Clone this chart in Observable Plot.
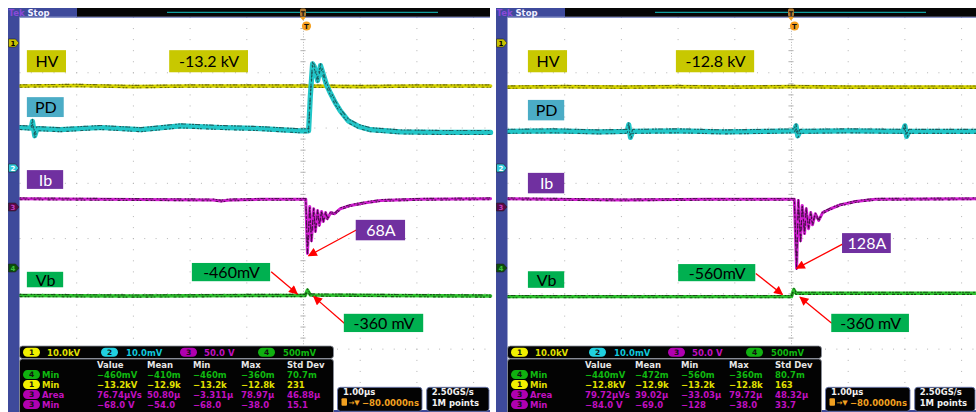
<!DOCTYPE html>
<html><head><meta charset="utf-8">
<script src="https://cdn.jsdelivr.net/npm/d3@7"></script>
<script src="https://cdn.jsdelivr.net/npm/@observablehq/plot@0.6"></script>
<style>
html,body{margin:0;padding:0;background:#fff;}
#wrap{position:relative;width:976px;height:412px;overflow:hidden;background:#fff;}
#wrap svg{position:absolute;top:0;}
</style></head><body><div id="wrap"></div>
<script>
// ---------- DATA (time in µs from trigger, value in screen divisions) ----------
const leftHV = [[-5,2.76],[-4,2.77],[-3,2.75],[-2,2.76],[-1,2.76],[0,2.76],[1,2.75],[2,2.76],[3.3,2.76]];
const leftPD = [[-5,2.01],[-4.8,2.0],[-4.78,2.12],[-4.74,1.86],[-4.7,1.99],[-4.29,1.97],[-3.58,2.01],[-2.87,1.97],[-2.17,2.04],[-1.46,2.01],[-0.76,1.99],[-0.05,1.95],[0.09,1.95],[0.12,2.57],[0.16,3.16],[0.19,3.11],[0.25,2.86],[0.30,3.13],[0.34,3.00],[0.41,2.77],[0.48,2.62],[0.56,2.46],[0.65,2.31],[0.79,2.13],[0.97,2.03],[1.18,1.97],[1.71,1.93],[2.42,1.92],[3.3,1.92]];
const leftIb = [[-5,0.72],[-3.58,0.71],[-1.6,0.7],[-1.46,0.68],[-1.3,0.70],[-0.76,0.71],[0.04,0.71],[0.07,-0.27],[0.11,0.58],[0.14,-0.04],[0.18,0.54],[0.21,0.13],[0.25,0.51],[0.28,0.24],[0.32,0.49],[0.35,0.31],[0.39,0.47],[0.42,0.36],[0.48,0.47],[0.55,0.45],[0.65,0.54],[0.83,0.60],[1.09,0.65],[1.36,0.69],[2.06,0.71],[3.3,0.72]];
const leftVb = [[-5,-1.03],[-3,-1.04],[-1,-1.03],[0.03,-1.03],[0.07,-0.93],[0.12,-1.02],[1.5,-1.03],[3.3,-1.04]];

const rightHV = [[-5,2.74],[-4,2.75],[-3,2.74],[-2,2.75],[-1,2.74],[0,2.75],[1,2.74],[2,2.74],[3.3,2.74]];
const rightPD = [[-5,1.94],[-4.2,1.95],[-3.4,1.93],[-2.9,1.94],[-2.87,2.06],[-2.84,1.83],[-2.80,1.94],[-2.0,1.95],[-1.2,1.93],[-0.4,1.94],[0.05,1.95],[0.08,2.04],[0.11,1.86],[0.15,1.94],[1.0,1.95],[1.97,1.94],[2.0,2.04],[2.03,1.85],[2.07,1.94],[3.3,1.94]];
const rightIb = [[-5,0.72],[-3,0.70],[-1.5,0.71],[0.05,0.71],[0.09,-0.54],[0.12,0.69],[0.16,-0.04],[0.19,0.60],[0.23,0.09],[0.26,0.54],[0.30,0.18],[0.34,0.47],[0.37,0.25],[0.42,0.45],[0.48,0.33],[0.55,0.47],[0.69,0.54],[0.86,0.61],[1.13,0.67],[1.48,0.71],[3.3,0.72]];
const rightVb = [[-5,-1.05],[-2,-1.05],[0.0,-1.05],[0.04,-0.92],[0.08,-0.99],[1.5,-0.99],[3.3,-0.99]];

const leftLabels  = ["HV","-13.2 kV","PD","Ib","68A","Vb","-460mV","-360 mV"];
const rightLabels = ["HV","-12.8 kV","PD","Ib","128A","Vb","-560mV","-360 mV"];

const chanScales = ["10.0kV","10.0mV","50.0 V","500mV"];
const measHeaders = ["Value","Mean","Min","Max","Std Dev"];
const measChannels = [4,1,3,3];
const measNames = ["Min","Min","Area","Min"];
const measLeft = [["−460mV","−410m","−460m","−360m","70.7m"],["−13.2kV","−12.9k","−13.2k","−12.8k","231"],["76.74µVs","50.80µ","−3.311µ","78.97µ","46.88µ"],["−68.0 V","−54.0","−68.0","−38.0","15.1"]];
const measRight = [["−440mV","−472m","−560m","−360m","80.7m"],["−12.8kV","−12.9k","−13.2k","−12.8k","163"],["79.72µVs","39.02µ","−33.03µ","79.72µ","48.32µ"],["−84.0 V","−69.0","−128","−38.0","33.7"]];
const timebase = ["1.00µs","−80.0000ns"];
const acquisition = ["2.50GS/s","1M points"];

// ---------- LAYOUT ----------
const PXUS = 56.7, LEFTPX = 19.5, YMIN = -3.1465, YMAX = 4;
const kinds = ["hv","hv","pd","ib","ib","vb","vb","vb"];
const kindStyle = {hv:["#c8c800","#000"], pd:["#4bacc6","#000"], ib:["#7030a0","#fff"], vb:["#00b050","#000"]};
const leftBoxes = [[-4.87,-4.18,3.40,3.00],[-2.36,-0.97,3.40,3.00],[-4.87,-4.22,2.55,2.19],[-4.87,-4.23,1.23,0.89],[0.93,1.80,0.33,-0.04],[-4.87,-4.23,-0.61,-0.89],[-1.96,-0.58,-0.45,-0.78],[0.72,2.12,-1.37,-1.70]];
const rightBoxes = [[-4.64,-3.95,3.40,3.00],[-2.03,-0.65,3.40,3.00],[-4.64,-4.00,2.50,2.13],[-4.64,-4.00,1.18,0.81],[0.90,1.76,0.09,-0.27],[-4.64,-4.00,-0.60,-0.90],[-1.99,-0.63,-0.47,-0.78],[0.71,2.08,-1.37,-1.70]];
const leftArrows = [[0.94,0.16,0.09,-0.31],[-0.57,-0.60,-0.11,-1.00],[0.72,-1.53,0.18,-1.05]];
const rightArrows = [[0.90,-0.10,0.09,-0.54],[-0.63,-0.63,-0.16,-1.01],[0.71,-1.53,0.15,-1.06]];

const chColor = {1:"#e0e000",2:"#10c8dc",3:"#c010c0",4:"#10b810"};
const chBadge = {1:"#f0f000",2:"#20d0e0",3:"#b000b0",4:"#10b010"};

function trace(pairs, color, dark, w) {
  const d = pairs.map(([t,v]) => ({t, v}));
  return [
    Plot.line(d, {x:"t", y:"v", stroke: color, strokeWidth: w, strokeLinejoin:"round"}),
    Plot.line(d, {x:"t", y:"v", stroke: dark, strokeWidth: 1.1, strokeDasharray:"1,2,2,1,1,4,1,2", dy: -w/2+0.6, strokeOpacity:0.85}),
    Plot.line(d, {x:"t", y:"v", stroke: dark, strokeWidth: 1.1, strokeDasharray:"2,3,1,2,1,5", dy: w/2-0.6, strokeOpacity:0.85})
  ];
}

function buildPanel(cfg) {
  const W = cfg.width;
  const xmax = -5 + (W - LEFTPX) / PXUS;
  const grid = "#b4b4b4";
  const vlines = [-4,-3,-2,-1,1,2,3].filter(t => t < xmax);
  const hlines = [3,2,1,0,-1,-2,-3];
  const ticks = d3.range(-15, 20).map(i => i/5);
  const boxes = cfg.labels.map((text, i) => {
    const b = cfg.boxes[i], k = kindStyle[kinds[i]];
    return {text, x1:b[0], x2:b[1], y1:b[2], y2:b[3], fill:k[0], tc:k[1]};
  });
  const arrows = cfg.arrows.map(a => ({x1:a[0], y1:a[1], x2:a[2], y2:a[3]}));
  const marks = [
    Plot.ruleX(vlines, {x: d=>d, y1: YMAX, y2: YMIN, stroke: grid, strokeDasharray: "1,10.06"}),
    Plot.ruleY(hlines, {y: d=>d, x1: -5, x2: xmax, stroke: grid, strokeDasharray: "1,10.34"}),
    Plot.ruleX([0], {x: d=>d, y1: YMAX, y2: YMIN, stroke: grid, strokeDasharray: "1,1.765"}),
    Plot.ruleY(ticks, {y: d=>d, x1: -0.045, x2: 0.045, stroke: grid}),
    ...trace(cfg.hv, "#d6d400", "#5c5a00", 3.6),
    ...trace(cfg.pd, "#22c6c8", "#1c4a4c", 5.2),
    ...trace(cfg.ib, "#d21ed2", "#3a103a", 3.0),
    ...trace(cfg.vb, "#2ec22e", "#0f3f0f", 3.4),
    Plot.link(arrows, {x1:"x1", y1:"y1", x2:"x2", y2:"y2", stroke:"#ff0000", strokeWidth:1.3}),
    Plot.rect(boxes, {x1:"x1", x2:"x2", y1:"y1", y2:"y2", fill:"fill"}),
    Plot.text(boxes, {x: d=>(d.x1+d.x2)/2, y: d=>(d.y1+d.y2)/2, text:"text", fill:"tc", fontSize:16, fontFamily:"Lato, 'Open Sans', sans-serif", dy: 0.5})
  ];
  const svg = Plot.plot({
    width: W, height: 412, marginLeft: LEFTPX, marginRight: 0, marginTop: 17, marginBottom: 0,
    x: {domain: [-5, xmax], axis: null}, y: {domain: [YMIN, YMAX], axis: null},
    color: {type: "identity"},
    style: {background: "transparent", overflow: "visible"},
    marks
  });
  svg.style.left = cfg.left + "px";
  addChrome(svg, W, cfg);
  document.getElementById("wrap").appendChild(svg);
}

function addChrome(svg, W, cfg) {
  const s = d3.select(svg);
  const blue = "#3e4a9b";
  const id = "ah" + cfg.id;
  s.append("defs").append("marker").attr("id", id).attr("viewBox","0 0 10 10")
    .attr("refX",9).attr("refY",5).attr("markerWidth",10).attr("markerHeight",9)
    .attr("markerUnits","userSpaceOnUse").attr("orient","auto")
    .append("path").attr("d","M0,0L10,5L0,10z").attr("fill","#ff0000");
  s.selectAll('g[aria-label="link"] path').attr("marker-end", `url(#${id})`);

  const g = s.append("g").attr("font-family","'DejaVu Sans', sans-serif").attr("font-weight","bold").attr("text-anchor","start");
  // left strip and top bars
  g.append("rect").attr("x",8).attr("y",8).attr("width",11.5).attr("height",404).attr("fill",blue);
  g.append("rect").attr("x",8).attr("y",8).attr("width",69).attr("height",8.8).attr("fill",blue);
  g.append("rect").attr("x",77).attr("y",8).attr("width",W-77).attr("height",8.8).attr("fill","#060606");
  g.append("rect").attr("x",19.5).attr("y",16.8).attr("width",W-19.5).attr("height",0.9).attr("fill","#5a68b4");
  g.append("text").attr("x",8.5).attr("y",15.6).attr("font-size",8.5).attr("fill","#8a48d8").text("Tek");
  g.append("text").attr("x",27.5).attr("y",15.6).attr("font-size",8.5).attr("fill","#f0f0ff").text("Stop");
  g.append("line").attr("x1",167).attr("x2",438).attr("y1",12.4).attr("y2",12.4).attr("stroke","#12a0a0").attr("stroke-width",1.2);
  // trigger position markers
  g.append("rect").attr("x",300).attr("y",8.5).attr("width",6).attr("height",8).attr("rx",1.5).attr("fill","#b07a30");
  g.append("text").attr("x",303).attr("y",15.5).attr("font-size",6.5).attr("text-anchor","middle").attr("fill","#111").text("T");
  g.append("path").attr("d","M300,17 L306,17 L303,20.5 Z").attr("fill","#f0a020");
  g.append("circle").attr("cx",306.5).attr("cy",26).attr("r",4.6).attr("fill","#f5a020");
  g.append("text").attr("x",306.5).attr("y",28.7).attr("font-size",7).attr("text-anchor","middle").attr("fill","#111").text("T");
  // channel ground markers
  const chMark = [[1,43,"#c8c000","#000"],[2,168,"#30c8dc","#fff"],[3,207,"#5a0848","#c040c0"],[4,268,"#0a500a","#40c040"]];
  chMark.forEach(([n,y,f,tc]) => {
    g.append("path").attr("d",`M8.5,${y-4} h7 l3.5,4 l-3.5,4 h-7 z`).attr("fill",f).attr("stroke","#222").attr("stroke-width",0.6);
    g.append("text").attr("x",13).attr("y",y+2.6).attr("font-size",7).attr("text-anchor","middle").attr("fill",tc).text(n);
  });
  // bottom blue edge
  g.append("rect").attr("x",8).attr("y",410).attr("width",W-8).attr("height",2).attr("fill",blue);

  // channel scale bar
  g.append("rect").attr("x",19.5).attr("y",346).attr("width",314).attr("height",12.5).attr("rx",3).attr("fill","#030303").attr("stroke","#8a8f9a").attr("stroke-width",0.8);
  const bx = [23,101,180,258], tx = [47,126,204,283];
  chanScales.forEach((lab,i) => {
    const c = i+1;
    g.append("rect").attr("x",bx[i]).attr("y",347.8).attr("width",17).attr("height",9).attr("rx",4.5).attr("fill",chBadge[c]);
    g.append("text").attr("x",bx[i]+8.5).attr("y",355.3).attr("font-size",7.5).attr("text-anchor","middle").attr("fill","#111").text(c);
    g.append("text").attr("x",tx[i]).attr("y",356).attr("font-size",8.5).attr("fill",chColor[c]).text(lab);
  });
  // measurement table
  g.append("rect").attr("x",19.5).attr("y",359).attr("width",314).attr("height",60).attr("rx",3).attr("fill","#030303").attr("stroke","#8a8f9a").attr("stroke-width",0.8);
  const cx = [97,147,193,241,287];
  measHeaders.forEach((h,i) => g.append("text").attr("x",cx[i]).attr("y",367.5).attr("font-size",8.5).attr("fill","#e6e6e6").text(h));
  cfg.meas.forEach((row, r) => {
    const c = measChannels[r], y = 377.7 + r*10;
    g.append("rect").attr("x",23).attr("y",y-7.6).attr("width",17).attr("height",9).attr("rx",4.5).attr("fill",chBadge[c]);
    g.append("text").attr("x",31.5).attr("y",y-0.6).attr("font-size",7.5).attr("text-anchor","middle").attr("fill","#111").text(c);
    g.append("text").attr("x",42).attr("y",y).attr("font-size",8.5).attr("fill",chColor[c]).text(measNames[r]);
    row.forEach((v,i) => g.append("text").attr("x",cx[i]).attr("y",y).attr("font-size",8.5).attr("fill",chColor[c]).text(v));
  });
  // timebase box
  g.append("rect").attr("x",337.5).attr("y",387.3).attr("width",84.5).attr("height",24).attr("rx",3).attr("fill","#030303").attr("stroke","#6a78b0").attr("stroke-width",0.9);
  g.append("text").attr("x",343).attr("y",395.3).attr("font-size",8.5).attr("fill","#f0f0f0").text(timebase[0]);
  g.append("rect").attr("x",341.5).attr("y",398.3).attr("width",5.5).attr("height",7.5).attr("rx",1).attr("fill","#f0a020");
  g.append("text").attr("x",348.5).attr("y",405.3).attr("font-size",7).attr("fill","#f0a020").text("→▼");
  g.append("text").attr("x",362).attr("y",405.5).attr("font-size",8.5).attr("fill","#f0a020").text(timebase[1]);
  // acquisition box
  g.append("rect").attr("x",426.7).attr("y",387.3).attr("width",W-426.7-1).attr("height",24).attr("rx",3).attr("fill","#030303").attr("stroke","#6a78b0").attr("stroke-width",0.9);
  g.append("text").attr("x",431.7).attr("y",395.3).attr("font-size",8.5).attr("fill","#f0f0f0").text(acquisition[0]);
  g.append("text").attr("x",431.7).attr("y",405.5).attr("font-size",8.5).attr("fill","#f0f0f0").text(acquisition[1]);
}

buildPanel({id:"L", left:0, width:490, hv:leftHV, pd:leftPD, ib:leftIb, vb:leftVb, labels:leftLabels, boxes:leftBoxes, arrows:leftArrows, meas:measLeft});
buildPanel({id:"R", left:488, width:488, hv:rightHV, pd:rightPD, ib:rightIb, vb:rightVb, labels:rightLabels, boxes:rightBoxes, arrows:rightArrows, meas:measRight});
</script>
</body></html>
